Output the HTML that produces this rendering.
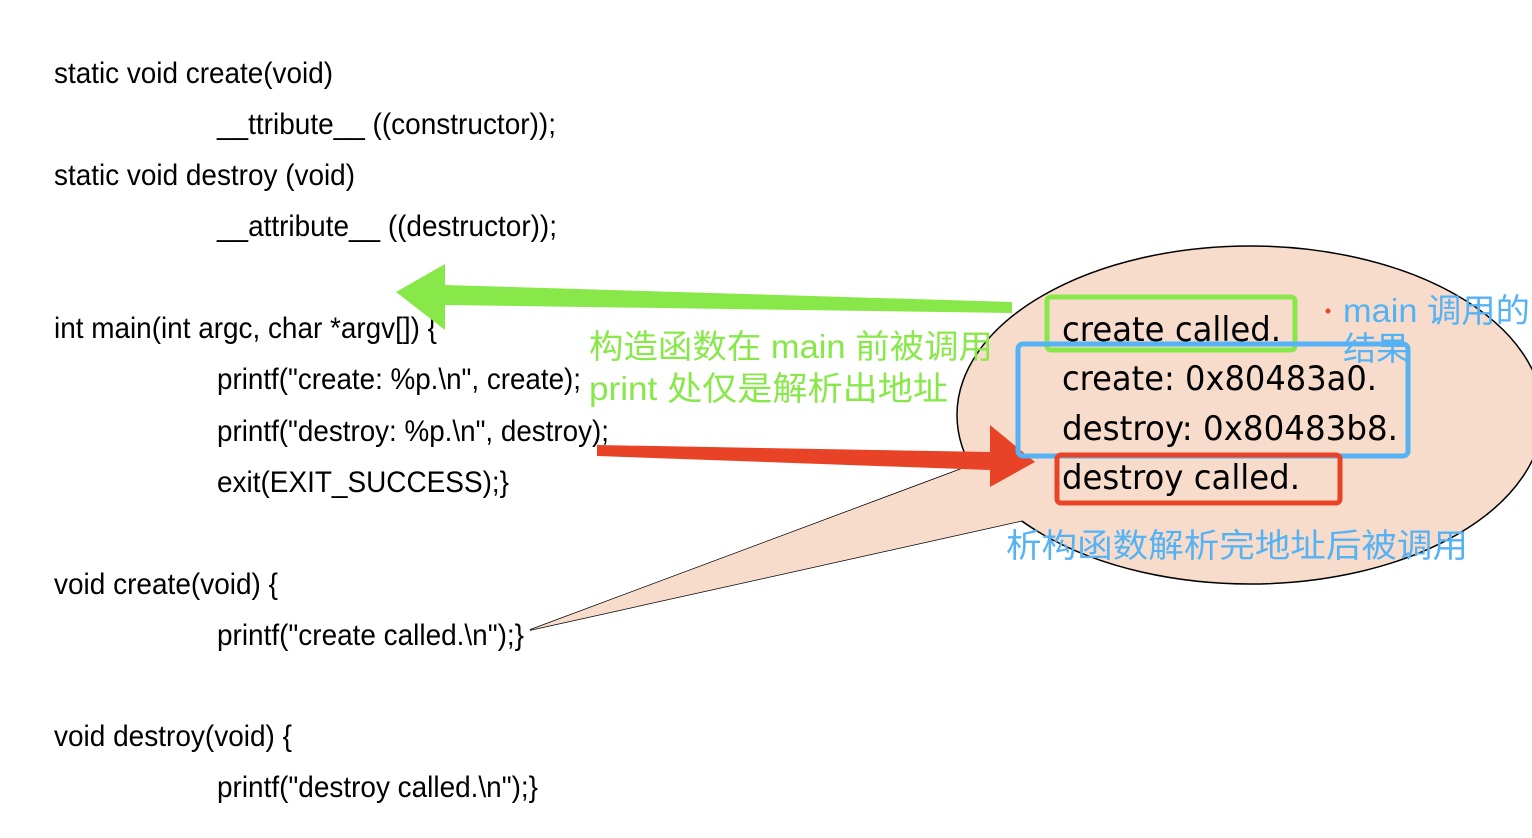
<!DOCTYPE html>
<html><head><meta charset="utf-8"><style>
html,body{margin:0;padding:0;background:#fff;width:1532px;height:838px;overflow:hidden}
</style></head><body>
<svg width="1532" height="838" viewBox="0 0 1532 838" xmlns="http://www.w3.org/2000/svg">
<g font-family="Liberation Sans, sans-serif" font-size="30" fill="#000" lengthAdjust="spacingAndGlyphs">
<text x="54" y="83" textLength="279" lengthAdjust="spacingAndGlyphs">static void create(void)</text>
<text x="217" y="134" textLength="339" lengthAdjust="spacingAndGlyphs">__ttribute__ ((constructor));</text>
<text x="54" y="185" textLength="301" lengthAdjust="spacingAndGlyphs">static void destroy (void)</text>
<text x="217" y="236" textLength="340" lengthAdjust="spacingAndGlyphs">__attribute__ ((destructor));</text>
<text x="54" y="338" textLength="383" lengthAdjust="spacingAndGlyphs">int main(int argc, char *argv[]) {</text>
<text x="217" y="389" textLength="364" lengthAdjust="spacingAndGlyphs">printf("create: %p.\n", create);</text>
<text x="217" y="441" textLength="392" lengthAdjust="spacingAndGlyphs">printf("destroy: %p.\n", destroy);</text>
<text x="217" y="492" textLength="292" lengthAdjust="spacingAndGlyphs">exit(EXIT_SUCCESS);}</text>
<text x="54" y="594" textLength="224" lengthAdjust="spacingAndGlyphs">void create(void) {</text>
<text x="217" y="645" textLength="307" lengthAdjust="spacingAndGlyphs">printf("create called.\n");}</text>
<text x="54" y="746" textLength="238" lengthAdjust="spacingAndGlyphs">void destroy(void) {</text>
<text x="217" y="797" textLength="321" lengthAdjust="spacingAndGlyphs">printf("destroy called.\n");}</text>
</g>
<!-- callout -->
<path d="M 972 465 L 530 630 L 1025 520 Z" fill="#f7dccb" stroke="#000" stroke-width="1.5"/>
<ellipse cx="1250" cy="415" rx="293" ry="169" fill="#f7dccb" stroke="#000" stroke-width="1.5"/>
<path d="M 972 465 L 530 630 L 1025 520" fill="#f7dccb" stroke="none"/>
<path d="M 966 468 L 1027 520" stroke="#f7dccb" stroke-width="4"/>
<!-- green arrow -->
<path d="M 1012 302 L 1012 313 L 445 305 L 445 330 L 396 292 L 445 264 L 445 285 Z" fill="#88e84a"/>
<!-- red arrow -->
<path d="M 597 445 L 990 452 L 990 425 L 1035 462 L 990 487 L 990 470 L 597 456 Z" fill="#e84326"/>
<!-- boxes -->
<rect x="1047" y="297" width="248" height="53" rx="4" fill="none" stroke="#88e84a" stroke-width="5"/>
<rect x="1018" y="344" width="390" height="112" rx="5" fill="none" stroke="#55b2f5" stroke-width="5"/>
<rect x="1057" y="455" width="283" height="48" rx="4" fill="none" stroke="#e84326" stroke-width="5"/>
<g font-family="DejaVu Sans, Liberation Sans, sans-serif" font-size="34" fill="#000">
<text x="1062" y="341" textLength="219" lengthAdjust="spacingAndGlyphs">create called.</text>
<text x="1062" y="390" textLength="315" lengthAdjust="spacingAndGlyphs">create: 0x80483a0.</text>
<text x="1062" y="440" textLength="336" lengthAdjust="spacingAndGlyphs">destroy: 0x80483b8.</text>
<text x="1062" y="489" textLength="238" lengthAdjust="spacingAndGlyphs">destroy called.</text>
</g>
<g font-family="Liberation Sans, Noto Sans CJK SC, sans-serif" font-size="33">
<text x="589" y="358" fill="#88e84a" textLength="404" lengthAdjust="spacingAndGlyphs">构造函数在 main 前被调用</text>
<text x="589" y="400" fill="#88e84a" textLength="359" lengthAdjust="spacingAndGlyphs">print 处仅是解析出地址</text>
<text x="1343" y="322" fill="#55b2f5" textLength="187" lengthAdjust="spacingAndGlyphs">main 调用的</text>
<text x="1343" y="360" fill="#55b2f5">结果</text>
<text x="1006" y="557" fill="#55b2f5" textLength="462" lengthAdjust="spacingAndGlyphs">析构函数解析完地址后被调用</text>
</g>
<circle cx="1328" cy="311" r="2.5" fill="#e84326"/>
</svg>
</body></html>
